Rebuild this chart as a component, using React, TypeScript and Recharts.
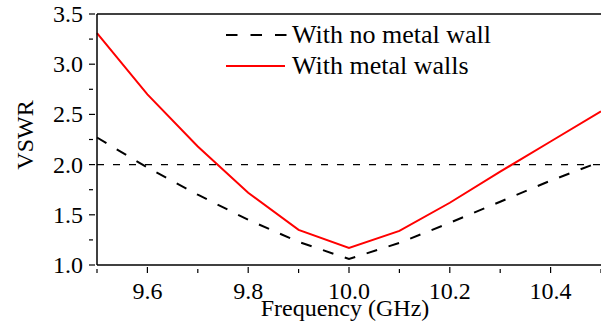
import React from 'react';
import { LineChart, Line, XAxis, YAxis, ReferenceLine } from 'recharts';

const FREQ = [9.5, 9.6, 9.7, 9.8, 9.9, 10.0, 10.1, 10.2, 10.3, 10.4, 10.5];
const NO_WALL = [2.27, 1.97, 1.7, 1.45, 1.23, 1.06, 1.22, 1.42, 1.63, 1.84, 2.03];
const WITH_WALLS = [3.31, 2.7, 2.18, 1.72, 1.35, 1.17, 1.34, 1.62, 1.93, 2.23, 2.53];

const X_TICKS = [9.5, 9.6, 9.7, 9.8, 9.9, 10.0, 10.1, 10.2, 10.3, 10.4, 10.5];
const X_LABELS = [9.6, 9.8, 10.0, 10.2, 10.4];
const Y_TICKS = [1.0, 1.25, 1.5, 1.75, 2.0, 2.25, 2.5, 2.75, 3.0, 3.25, 3.5];
const Y_LABELS = [1.0, 1.5, 2.0, 2.5, 3.0, 3.5];

const FONT = 'Liberation Serif';

const data = FREQ.map((f, i) => ({ f, noWall: NO_WALL[i], walls: WITH_WALLS[i] }));

const isLabel = (list: number[], v: number) => list.some((l) => Math.abs(l - v) < 1e-6);

// ticks point inward, minor ones are shorter and unlabelled
const XTick = (props: any) => {
  const { x, y, payload } = props;
  const major = isLabel(X_LABELS, payload.value);
  return (
    <g>
      <line x1={x} x2={x} y1={y} y2={y - (major ? 6 : 4)} stroke="#000" strokeWidth={1.2} />
      {major && (
        <text x={x} y={y + 26} textAnchor="middle" fontFamily={FONT} fontSize={24} fill="#000">
          {payload.value.toFixed(1)}
        </text>
      )}
    </g>
  );
};

const YTick = (props: any) => {
  const { x, y, payload } = props;
  const major = isLabel(Y_LABELS, payload.value);
  return (
    <g>
      <line x1={x} x2={x + (major ? 6 : 4)} y1={y} y2={y} stroke="#000" strokeWidth={1.2} />
      {major && (
        <text x={x - 6} y={y + 8} textAnchor="end" fontFamily={FONT} fontSize={24} fill="#000">
          {payload.value.toFixed(1)}
        </text>
      )}
    </g>
  );
};

export default function App() {
  return (
    <div style={{ position: 'absolute', left: 0, top: 0, width: 601, height: 325, background: '#fff' }}>
      <LineChart width={601} height={325} data={data} margin={{ top: 14, right: 0, left: 0, bottom: 0 }}>
        <XAxis
          dataKey="f"
          type="number"
          domain={[9.5, 10.5]}
          ticks={X_TICKS}
          tick={<XTick />}
          tickLine={false}
          axisLine={{ stroke: '#000', strokeWidth: 1.5 }}
          height={60}
          interval={0}
        />
        <YAxis
          type="number"
          domain={[1.0, 3.5]}
          ticks={Y_TICKS}
          tick={<YTick />}
          tickLine={false}
          axisLine={{ stroke: '#000', strokeWidth: 1.5 }}
          width={97}
          interval={0}
        />
        <ReferenceLine y={3.5} stroke="#000" strokeWidth={1.5} />
        <ReferenceLine y={2.0} stroke="#000" strokeWidth={1.3} strokeDasharray="7 9" />
        <Line
          dataKey="noWall"
          stroke="#000"
          strokeWidth={2}
          strokeDasharray="11 12"
          dot={false}
          isAnimationActive={false}
        />
        <Line dataKey="walls" stroke="#ff0000" strokeWidth={2} dot={false} isAnimationActive={false} />
      </LineChart>
      <svg width={601} height={325} style={{ position: 'absolute', left: 0, top: 0, pointerEvents: 'none' }}>
        <text x={345} y={316} textAnchor="middle" fontFamily={FONT} fontSize={24} fill="#000">Frequency (GHz)</text>
        <text x={33} y={135} textAnchor="middle" transform="rotate(-90 33 135)" fontFamily={FONT} fontSize={24} fill="#000">VSWR</text>
        <line x1={226} x2={288} y1={35} y2={35} stroke="#000" strokeWidth={2} strokeDasharray="11.5 13" />
        <text x={292} y={43} fontFamily={FONT} fontSize={26} fill="#000">With no metal wall</text>
        <line x1={226} x2={285} y1={66} y2={66} stroke="#ff0000" strokeWidth={2} />
        <text x={292} y={74} fontFamily={FONT} fontSize={26} fill="#000">With metal walls</text>
      </svg>
    </div>
  );
}
